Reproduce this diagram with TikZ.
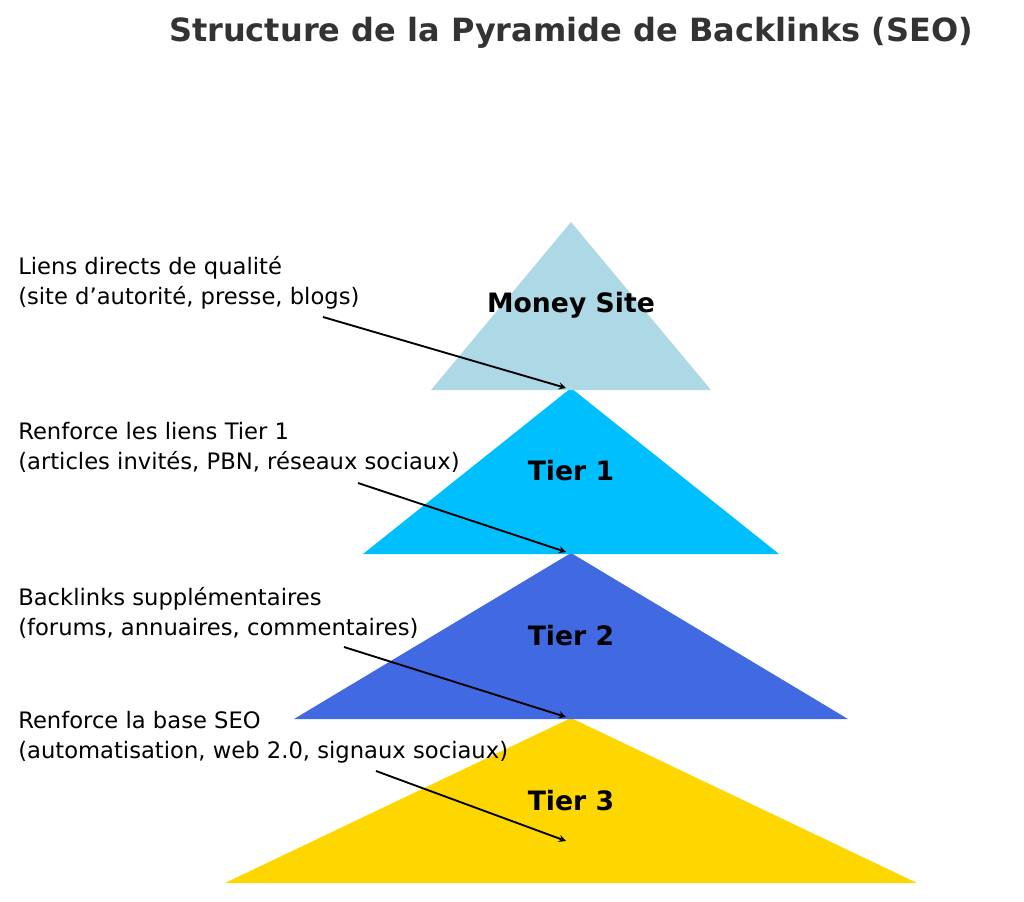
\documentclass[tikz,border=0pt]{standalone}
\usepackage{fontspec}
\setmainfont{DejaVu Sans}
\begin{document}
\begin{tikzpicture}[x=0.75pt,y=-0.75pt,
  lbl/.style={font=\fontsize{20}{24}\selectfont\bfseries, inner sep=0},
  note/.style={font=\fontsize{17}{22.5}\selectfont, align=left, anchor=north west, inner sep=0},
  arr/.style={->, >=stealth, line width=1.4pt, shorten >=0pt}]
\useasboundingbox (0,0) rectangle (1024,902);
\definecolor{lb}{RGB}{173,216,230}
\definecolor{dsb}{RGB}{0,191,255}
\definecolor{rb}{RGB}{65,105,225}
\definecolor{gd}{RGB}{255,215,0}
\definecolor{tt}{RGB}{51,51,51}
\fill[gd] (571,718) -- (917,883) -- (225,883) -- cycle;
\fill[rb] (571,553) -- (848,719) -- (294,719) -- cycle;
\fill[dsb] (571,388) -- (779,554) -- (363,554) -- cycle;
\fill[lb] (571,222) -- (711,390) -- (431,390) -- cycle;
\node[font=\fontsize{24}{28}\selectfont\bfseries, text=tt] (title) at (571,33) {Structure de la Pyramide de Backlinks (SEO)};
\node[lbl] (m) at (571,305) {Money Site};
\node[lbl] (t1) at (571,471) {Tier 1};
\node[lbl] (t2) at (571,636) {Tier 2};
\node[lbl] (t3) at (571,801) {Tier 3};
\node[note] (n0) at (18,256) {Liens directs de qualité\\(site d'autorité, presse, blogs)};
\node[note] (n1) at (18,422) {Renforce les liens Tier 1\\(articles invités, PBN, réseaux sociaux)};
\node[note] (n2) at (18,587) {Backlinks supplémentaires\\(forums, annuaires, commentaires)};
\node[note] (n3) at (18,711) {Renforce la base SEO\\(automatisation, web 2.0, signaux sociaux)};
\coordinate (a0) at (323,317); \coordinate (b0) at (566,388);
\coordinate (a1) at (358,483); \coordinate (b1) at (566,552);
\coordinate (a2) at (344,647); \coordinate (b2) at (566,717);
\coordinate (a3) at (376,771); \coordinate (b3) at (566,841);
\draw[arr] (a0) -- (b0);
\draw[arr] (a1) -- (b1);
\draw[arr] (a2) -- (b2);
\draw[arr] (a3) -- (b3);
\end{tikzpicture}
\end{document}
